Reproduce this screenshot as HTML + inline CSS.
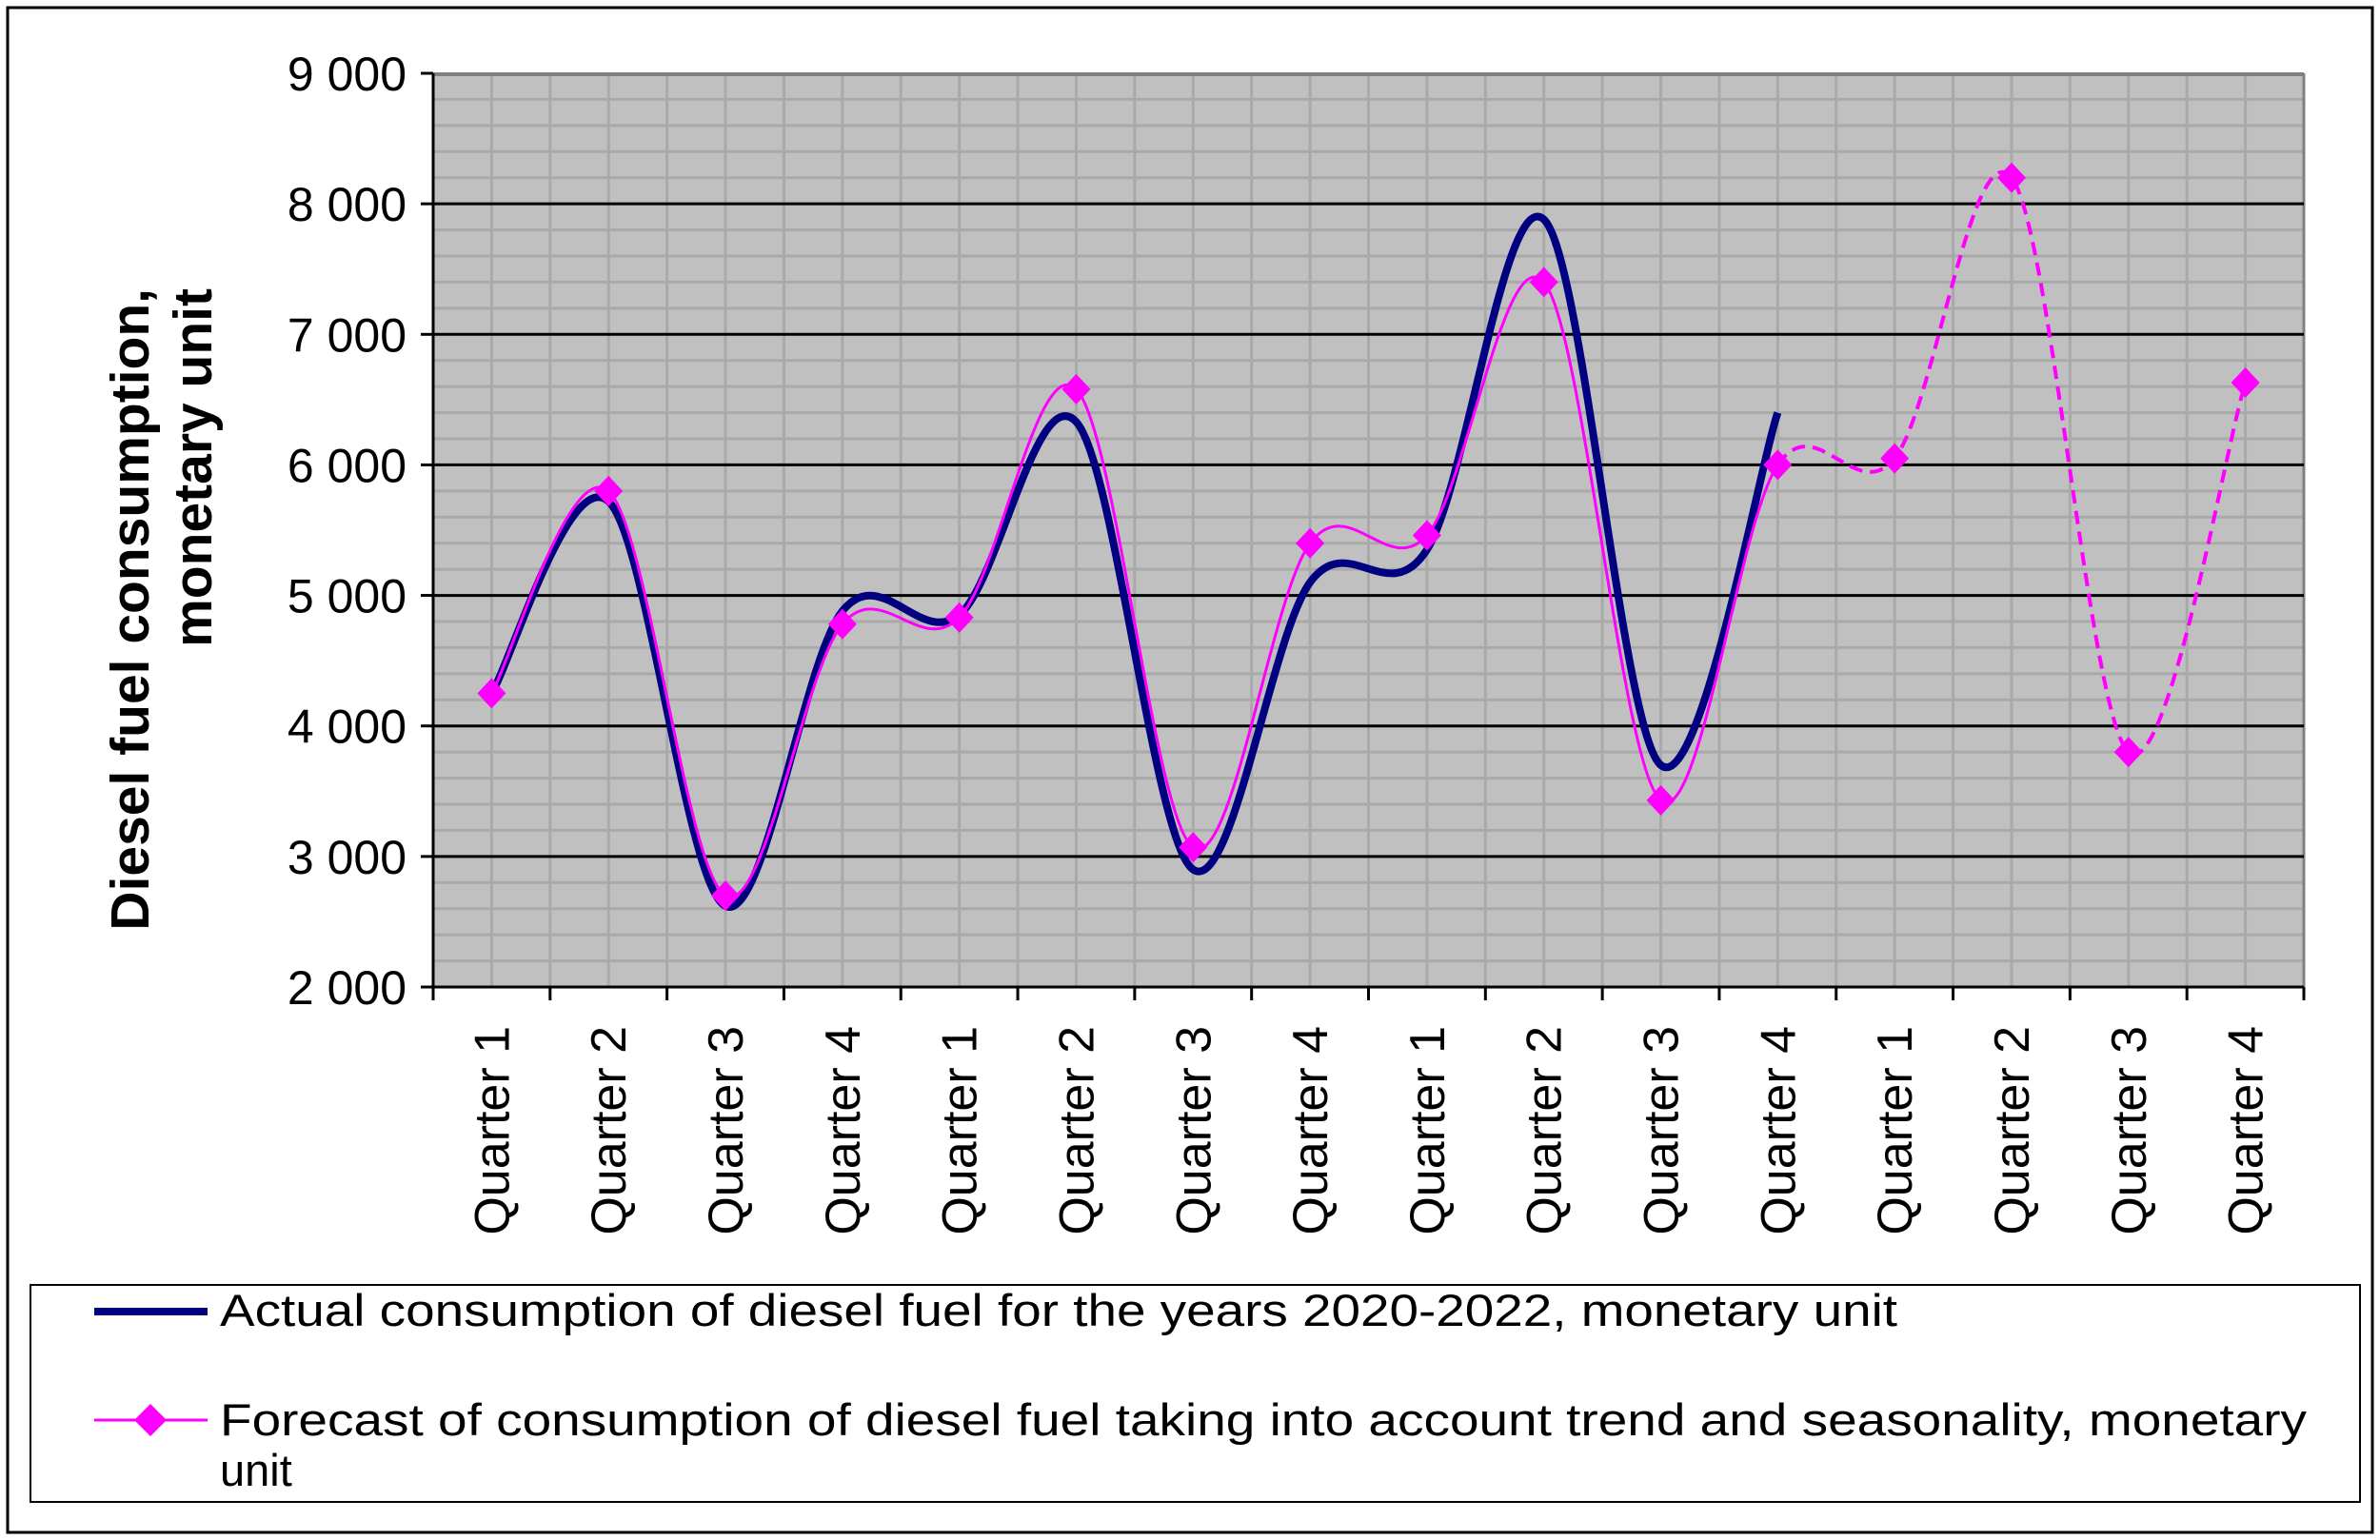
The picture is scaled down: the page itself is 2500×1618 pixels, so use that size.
<!DOCTYPE html>
<html><head><meta charset="utf-8"><style>
html,body{margin:0;padding:0;background:#fff;}
svg{display:block;font-family:"Liberation Sans",Arial,sans-serif;}
</style></head><body>
<svg id="chart" width="2500" height="1618" viewBox="0 0 2500 1618">
<rect x="8" y="8" width="2484" height="1602" fill="#fff" stroke="#000" stroke-width="3"/>
<g id="plot"></g>
<text transform="translate(156,303) rotate(-90)" text-anchor="end" font-size="57" font-weight="bold">Diesel fuel consumption,</text>
<text transform="translate(222,303) rotate(-90)" text-anchor="end" font-size="57" font-weight="bold">monetary unit</text>
<g>
<rect x="32" y="1350" width="2447" height="228" fill="#fff" stroke="#000" stroke-width="2"/>
<line x1="99" y1="1378" x2="218" y2="1378" stroke="#000080" stroke-width="8"/>
<text x="231" y="1393" font-size="47" textLength="1762" lengthAdjust="spacingAndGlyphs">Actual consumption of diesel fuel for the years 2020-2022, monetary unit</text>
<line x1="99" y1="1492" x2="218" y2="1492" stroke="#ff00ff" stroke-width="3"/>
<path d="M158 1475 L175 1492 L158 1509 L141 1492 Z" fill="#ff00ff"/>
<text x="231" y="1508" font-size="47" textLength="2192" lengthAdjust="spacingAndGlyphs">Forecast of consumption of diesel fuel taking into account trend and seasonality, monetary</text>
<text x="231" y="1561" font-size="47">unit</text>
</g>
</svg>
<script>
const categories=["Quarter 1","Quarter 2","Quarter 3","Quarter 4","Quarter 1","Quarter 2","Quarter 3","Quarter 4","Quarter 1","Quarter 2","Quarter 3","Quarter 4","Quarter 1","Quarter 2","Quarter 3","Quarter 4"];
const actualValues=[4250,5720,2620,4880,4850,6330,2900,5100,5350,7880,3700,6400];
const forecastValues=[4250,5800,2700,4780,4830,6580,3070,5400,5460,7400,3430,6000,6050,8200,3800,6630];
const yTicks=[2000,3000,4000,5000,6000,7000,8000,9000];
const yTickLabels=["2 000","3 000","4 000","5 000","6 000","7 000","8 000","9 000"];
const forecastSplit=11;

const NS="http://www.w3.org/2000/svg";
const X0=455,X1=2420,Y0=77,Y1=1037,YMIN=2000,YMAX=9000;
const bw=(X1-X0)/categories.length;
const xs=i=>X0+bw*(i+0.5);
const ys=v=>Y1-(v-YMIN)/(YMAX-YMIN)*(Y1-Y0);
const plotG=document.getElementById('plot');
function mk(t,a){const e=document.createElementNS(NS,t);for(const k in a)e.setAttribute(k,a[k]);return e;}

let bg=mk('rect',{x:X0,y:Y0,width:X1-X0,height:Y1-Y0,fill:'#c0c0c0'});


plotG.appendChild(bg);
for(let v=YMIN+200;v<YMAX;v+=200){
  if(v%1000===0)continue;
  let l=mk('line',{x1:X0,x2:X1,y1:ys(v),y2:ys(v),stroke:'#a9a9a9','stroke-width':3});
  
  
  plotG.appendChild(l);
}
for(let i=1;i<categories.length*2;i++){
  const x=X0+bw/2*i;
  let l=mk('line',{x1:x,x2:x,y1:Y0,y2:Y1,stroke:'#a9a9a9','stroke-width':3});
  
  
  plotG.appendChild(l);
}
let topBorder=mk('line',{x1:X0,x2:X1,y1:Y0+1,y2:Y0+1,stroke:'#808080','stroke-width':4});


plotG.appendChild(topBorder);
let rb=mk('line',{x1:X1,x2:X1,y1:Y0,y2:Y1,stroke:'#808080','stroke-width':3});


plotG.appendChild(rb);
yTicks.forEach((v,i)=>{
  const y=ys(v);
  if(v>YMIN&&v<YMAX){
    let l=mk('line',{x1:X0,x2:X1,y1:y,y2:y,stroke:'#000','stroke-width':3});
    
    
    plotG.appendChild(l);
  }
  let tk=mk('line',{x1:X0-13,x2:X0,y1:y,y2:y,stroke:'#000','stroke-width':3});
  
  
  plotG.appendChild(tk);
  let t=mk('text',{x:X0-28,y:y+18,'text-anchor':'end','font-size':50});
  t.textContent=yTickLabels[i];
  
  
  plotG.appendChild(t);
});
let ya=mk('line',{x1:X0,x2:X0,y1:Y0,y2:Y1,stroke:'#000','stroke-width':3});


plotG.appendChild(ya);
let xa=mk('line',{x1:X0,x2:X1,y1:Y1,y2:Y1,stroke:'#000','stroke-width':3});


plotG.appendChild(xa);
for(let i=0;i<=categories.length;i++){
  const x=X0+bw*i;
  let tk=mk('line',{x1:x,x2:x,y1:Y1,y2:Y1+14,stroke:'#000','stroke-width':3});
  
  
  plotG.appendChild(tk);
}
categories.forEach((c,i)=>{
  const x=xs(i)+18;
  let t=mk('text',{transform:`translate(${x},1078) rotate(-90)`,'text-anchor':'end','font-size':52});
  t.textContent=c;
  
  
  plotG.appendChild(t);
});
function smooth(pts,from,to){
  let d='';
  for(let i=from;i<to;i++){
    const p0=pts[Math.max(i-1,0)],p1=pts[i],p2=pts[i+1],p3=pts[Math.min(i+2,pts.length-1)];
    const c1=[p1[0]+(p2[0]-p0[0])/6,p1[1]+(p2[1]-p0[1])/6];
    const c2=[p2[0]-(p3[0]-p1[0])/6,p2[1]-(p3[1]-p1[1])/6];
    if(i===from)d+=`M${p1[0]},${p1[1]}`;
    d+=` C${c1[0]},${c1[1]} ${c2[0]},${c2[1]} ${p2[0]},${p2[1]}`;
  }
  return d;
}
const ap=actualValues.map((v,i)=>[xs(i),ys(v)]);
let al=mk('path',{d:smooth(ap,0,ap.length-1),fill:'none',stroke:'#000080','stroke-width':8,'stroke-linejoin':'round'});


plotG.appendChild(al);
const fp=forecastValues.map((v,i)=>[xs(i),ys(v)]);
let fl=mk('path',{d:smooth(fp,0,forecastSplit),fill:'none',stroke:'#ff00ff','stroke-width':3});


plotG.appendChild(fl);
let fd=mk('path',{d:smooth(fp,forecastSplit,fp.length-1),fill:'none',stroke:'#ff00ff','stroke-width':4,'stroke-dasharray':'14 8'});


plotG.appendChild(fd);
fp.forEach(p=>{
  let m=mk('path',{d:`M${p[0]} ${p[1]-16} L${p[0]+15} ${p[1]} L${p[0]} ${p[1]+16} L${p[0]-15} ${p[1]} Z`,fill:'#ff00ff'});
  
  
  plotG.appendChild(m);
});
</script>
</body></html>
